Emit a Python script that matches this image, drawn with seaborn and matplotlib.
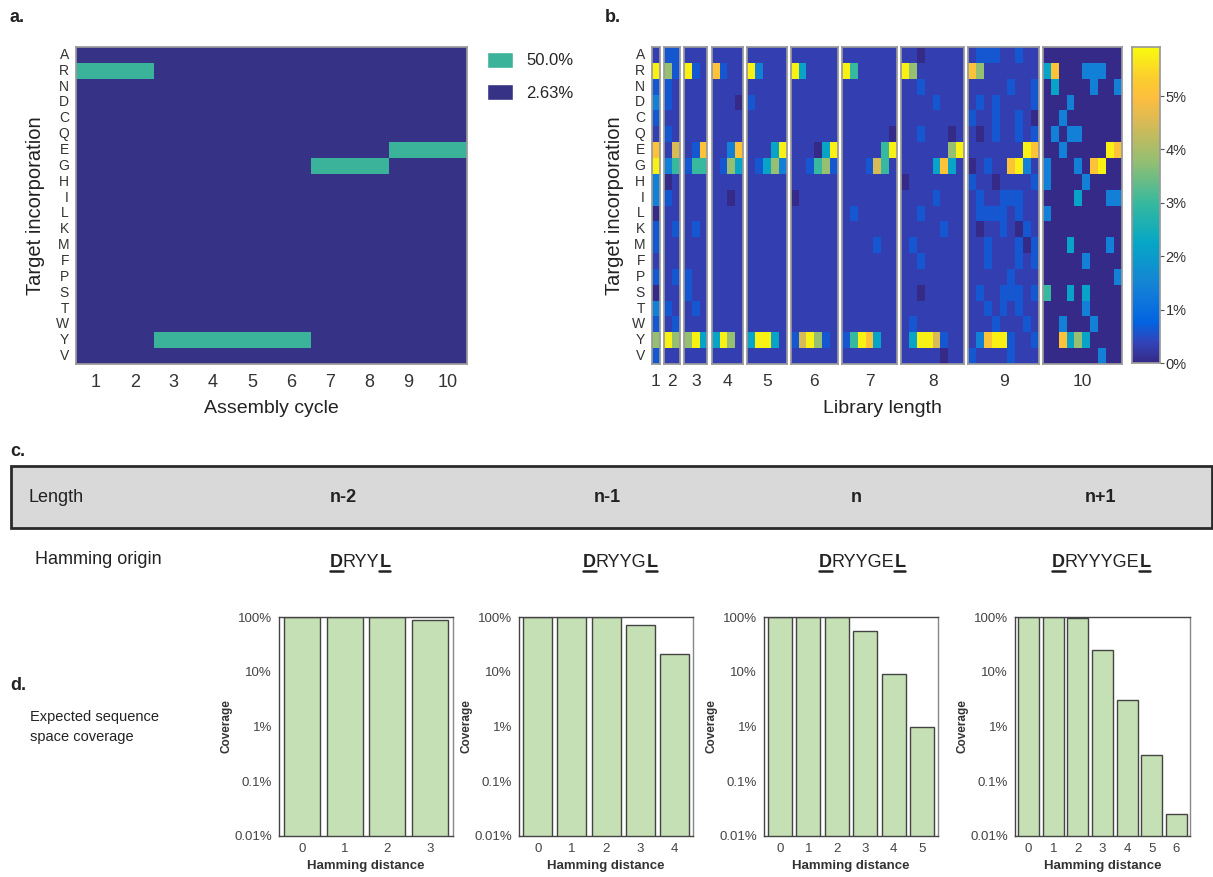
import numpy as np
import pandas as pd
import matplotlib
matplotlib.use("Agg")
import matplotlib.pyplot as plt
import seaborn as sns
from matplotlib.colors import ListedColormap, LinearSegmentedColormap
from matplotlib.patches import Patch, Rectangle
from matplotlib.lines import Line2D

# ---------------- data ----------------
amino_acids = list("ARNDCQEGHILKMFPSTWYV")
cycles = list(range(1, 11))

# panel a: targeted residue at each assembly cycle
target_per_cycle = ["R", "R", "Y", "Y", "Y", "Y", "G", "G", "E", "E"]
target_pct = 50.0
other_pct = 2.63

# panel b: cell codes (one string per residue, one char per position), code -> percent
level_pct = [0.0, 0.32, 0.62, 1.4, 2.2, 3.0, 3.8, 4.5, 5.1, 5.8]
block1 = ["1", "9", "2", "3", "2", "1", "8", "9", "3", "3",
          "0", "2", "2", "1", "2", "0", "3", "2", "6", "2"]
block2 = ["22", "62", "21", "21", "11", "21", "17", "35", "01", "21",
          "11", "12", "11", "11", "12", "11", "21", "12", "96", "11"]
block3 = ["111", "921", "111", "111", "111", "111", "128", "255", "111", "111",
          "111", "121", "111", "111", "211", "211", "121", "111", "694", "111"]
block4 = ["1111", "8211", "1111", "1110", "1111", "1111", "1138", "1264", "1111", "1101",
          "1111", "1111", "1111", "1111", "1111", "1111", "1111", "1111", "4961", "1111"]
block5 = ["11111", "93111", "11111", "21111", "11111", "11111", "11149", "12463", "11111", "11111",
          "11111", "11111", "11111", "11111", "11111", "11111", "11111", "11111", "49941", "11111"]
block6 = ["111111", "941111", "111111", "111111", "111111", "111111", "111049", "112562", "111111", "011111",
          "111111", "111111", "111111", "111111", "111111", "111111", "111111", "111111", "279621", "111111"]
block7 = ["1111111", "9511111", "1111111", "1111111", "1111111", "1111110", "1111159", "1112751", "1111111", "1111111",
          "1211111", "1111111", "1111211", "1111111", "1111111", "1111111", "1111111", "1111111", "2598411", "1111111"]
block8 = ["11011111", "96111111", "11211111", "11112111", "11111111", "11211101", "11111169", "11114841",
          "01111111", "11112111", "11211111", "11111211", "12111111", "11211111", "11111111", "11011111",
          "11111111", "12111111", "14997211", "11111011"]
block9 = ["122211211", "861111111", "111112112", "121211112", "211211210", "101211212", "111111198",
          "012118931", "211011112", "121122211", "122221211", "101121021", "112111202", "112111212",
          "111112111", "121122212", "112121211", "111211121", "138992112", "211112111"]
block10 = ["0000000000", "4800033300", "0400003003", "0003000000", "0030000000", "0303300000",
           "0030000098", "3000308900", "3000030000", "0000400033", "3000000000", "0000000000",
           "0004000030", "0000030000", "0000000003", "5004040000", "0000030000", "0030003000",
           "0084640000", "0000000300"]
blocks = [block1, block2, block3, block4, block5, block6, block7, block8, block9, block10]

# panel c / d
length_labels = ["n-2", "n-1", "n", "n+1"]
hamming_origins = ["DRYYL", "DRYYGL", "DRYYGEL", "DRYYYGEL"]
coverage_n2 = [100, 100, 100, 89]
coverage_n1 = [100, 100, 100, 72, 21]
coverage_n = [100, 100, 100, 55, 9.1, 0.97]
coverage_np1 = [100, 100, 96, 24.5, 3.0, 0.30, 0.025]
coverages = [coverage_n2, coverage_n1, coverage_n, coverage_np1]

# ---------------- style ----------------
sns.set_theme(style="white")
plt.rcParams["font.family"] = ["Liberation Sans", "DejaVu Sans"]

W, H = 1213, 877
fig = plt.figure(figsize=(W / 100, H / 100), dpi=100)


def px(x0, y0, x1, y1):
    return [x0 / W, 1 - y1 / H, (x1 - x0) / W, (y1 - y0) / H]


def ftext(x, y, s, **kw):
    return fig.text(x / W, 1 - y / H, s, **kw)


parula = LinearSegmentedColormap.from_list("parula", [
    (0.0, (0.2081, 0.1663, 0.5292)),
    (4 / 63, (0.1959, 0.2645, 0.7279)),
    (8 / 63, (0.0117, 0.3875, 0.8820)),
    (12 / 63, (0.0498, 0.4586, 0.8641)),
    (16 / 63, (0.0793, 0.5200, 0.8312)),
    (24 / 63, (0.0228, 0.6535, 0.7768)),
    (32 / 63, (0.2178, 0.7250, 0.6193)),
    (40 / 63, (0.5709, 0.7485, 0.4494)),
    (48 / 63, (0.8507, 0.7299, 0.3360)),
    (53 / 63, (0.9938, 0.7455, 0.2403)),
    (57 / 63, (0.9880, 0.8066, 0.1794)),
    (1.0, (0.9763, 0.9831, 0.0538)),
])
dark_blue = "#363387"
teal = "#3bb39a"
frame_col = "#9a9a9a"
txt_col = "#222222"

# ---------------- panel a ----------------
ax_a = fig.add_axes(px(76, 47, 467, 364))
grid_a = pd.DataFrame(
    [[target_pct if t == aa else other_pct for t in target_per_cycle] for aa in amino_acids],
    index=amino_acids, columns=cycles)
sns.heatmap(grid_a, cmap=ListedColormap([dark_blue, teal]), cbar=False, ax=ax_a,
            xticklabels=cycles, yticklabels=amino_acids)
ax_a.tick_params(axis="y", length=0, pad=5, labelsize=10, labelcolor="#333333", rotation=0)
ax_a.tick_params(axis="x", length=0, pad=7, labelsize=13, labelcolor="#333333")
ax_a.set_xlabel("")
ax_a.set_ylabel("")
for sp in ax_a.spines.values():
    sp.set_visible(True)
    sp.set_color(frame_col)
ax_a.legend(handles=[Patch(facecolor=teal, label="50.0%"), Patch(facecolor=dark_blue, label="2.63%")],
            loc="upper left", bbox_to_anchor=(1.05, 0.985), frameon=False, fontsize=12,
            handlelength=1.6, handleheight=1.1, labelspacing=0.95, borderpad=0, borderaxespad=0,
            handletextpad=0.8)
ftext(10, 18, "a.", fontsize=13, fontweight="bold", va="center", color=txt_col)
ftext(36, 206, "Target incorporation", fontsize=14.5, rotation=90, ha="center", va="center", color=txt_col)
ftext(271, 408, "Assembly cycle", fontsize=14, ha="center", va="center", color=txt_col)

# ---------------- panel b ----------------
col_w, gap, x_start = 7.85, 4.2, 652
x = x_start
cax = fig.add_axes(px(1132, 47, 1160, 363))
for k, blk in enumerate(blocks, start=1):
    ax_b = fig.add_axes(px(x, 47, x + k * col_w, 364))
    vals = pd.DataFrame([[level_pct[int(c)] for c in row] for row in blk], index=amino_acids)
    last = k == len(blocks)
    sns.heatmap(vals, cmap=parula, vmin=0, vmax=5.92, ax=ax_b, cbar=last,
                cbar_ax=cax if last else None,
                xticklabels=False, yticklabels=amino_acids if k == 1 else False)
    ax_b.set_xticks([k / 2])
    ax_b.set_xticklabels([str(k)])
    ax_b.tick_params(axis="x", length=0, pad=7, labelsize=12.5, labelcolor="#333333")
    ax_b.tick_params(axis="y", length=0, pad=5, labelsize=10, labelcolor="#333333", rotation=0)
    ax_b.set_ylabel("")
    for sp in ax_b.spines.values():
        sp.set_visible(True)
        sp.set_color(frame_col)
    x += k * col_w + gap

cax.set_yticks([0, 1, 2, 3, 4, 5])
cax.set_yticklabels(["0%", "1%", "2%", "3%", "4%", "5%"])
cax.tick_params(axis="y", length=3, width=0.8, color="#555555", labelsize=10.5, labelcolor="#333333", pad=1)
for sp in cax.spines.values():
    sp.set_visible(True)
    sp.set_color(frame_col)
ftext(605, 18, "b.", fontsize=13, fontweight="bold", va="center", color=txt_col)
ftext(615, 206, "Target incorporation", fontsize=14.5, rotation=90, ha="center", va="center", color=txt_col)
ftext(882, 408, "Library length", fontsize=14, ha="center", va="center", color=txt_col)

# ---------------- panel c ----------------
ftext(10, 452, "c.", fontsize=13, fontweight="bold", va="center", color=txt_col)
fig.add_artist(Rectangle((11 / W, 1 - 528 / H), 1201 / W, 62 / H, transform=fig.transFigure,
                         facecolor="#d9d9d9", edgecolor="#2a2a2a", linewidth=2))
ftext(28, 498, "Length", fontsize=13, va="center", color=txt_col)
length_x = [343, 607, 856, 1100]
for lx, lab in zip(length_x, length_labels):
    ftext(lx, 498, lab, fontsize=13, fontweight="bold", ha="center", va="center", color=txt_col)

ftext(35, 560, "Hamming origin", fontsize=13, va="center", color=txt_col)
renderer = fig.canvas.get_renderer()
origin_x = [360, 620, 862, 1101]
for ox, seq in zip(origin_x, hamming_origins):
    parts = [(seq[0], True), (seq[1:-1], False), (seq[-1], True)]
    texts = [ftext(0, 567, s, fontsize=13, fontweight="bold" if b else "normal",
                   va="baseline", ha="left", color=txt_col) for s, b in parts]
    widths = [t.get_window_extent(renderer).width for t in texts]
    xx = ox - sum(widths) / 2
    for t, w, (s, b) in zip(texts, widths, parts):
        t.set_x(xx / W)
        if b:
            fig.add_artist(Line2D([xx / W, (xx + w) / W], [1 - 571 / H] * 2,
                                  transform=fig.transFigure, color=txt_col, lw=1.8))
        xx += w

# ---------------- panel d ----------------
ftext(10, 685, "d.", fontsize=13, fontweight="bold", va="center", color=txt_col)
ftext(30, 727, "Expected sequence\nspace coverage", fontsize=10.5, va="center", ha="left",
      color=txt_col, linespacing=1.5)

bar_boxes = [(279, 453), (519, 693), (764, 938), (1015, 1190)]
for (bx0, bx1), cov in zip(bar_boxes, coverages):
    ax_d = fig.add_axes(px(bx0, 617, bx1, 836))
    dist = list(range(len(cov)))
    sns.barplot(x=dist, y=cov, color="#c5e0b4", saturation=1, edgecolor="#444444",
                linewidth=1, width=0.85, ax=ax_d)
    ax_d.set_yscale("log")
    ax_d.set_ylim(0.01, 100)
    ax_d.set_xlim(-0.55, len(cov) - 0.45)
    ax_d.set_yticks([0.01, 0.1, 1, 10, 100])
    ax_d.set_yticklabels(["0.01%", "0.1%", "1%", "10%", "100%"])
    ax_d.minorticks_off()
    ax_d.tick_params(axis="both", labelsize=9.5, labelcolor="#444444", length=3, width=0.8,
                     color="#555555", pad=2)
    ax_d.tick_params(axis="x", length=0, pad=5)
    ax_d.set_ylabel("Coverage", fontsize=8.5, fontweight="bold", color="#333333", labelpad=1)
    ax_d.set_xlabel("Hamming distance", fontsize=9.5, fontweight="bold", color="#333333", labelpad=4)
    for name, sp in ax_d.spines.items():
        sp.set_visible(True)
        sp.set_linewidth(1)
        sp.set_color("#444444" if name in ("left", "bottom", "top") else "#888888")

fig.savefig("out.png", dpi=100)
